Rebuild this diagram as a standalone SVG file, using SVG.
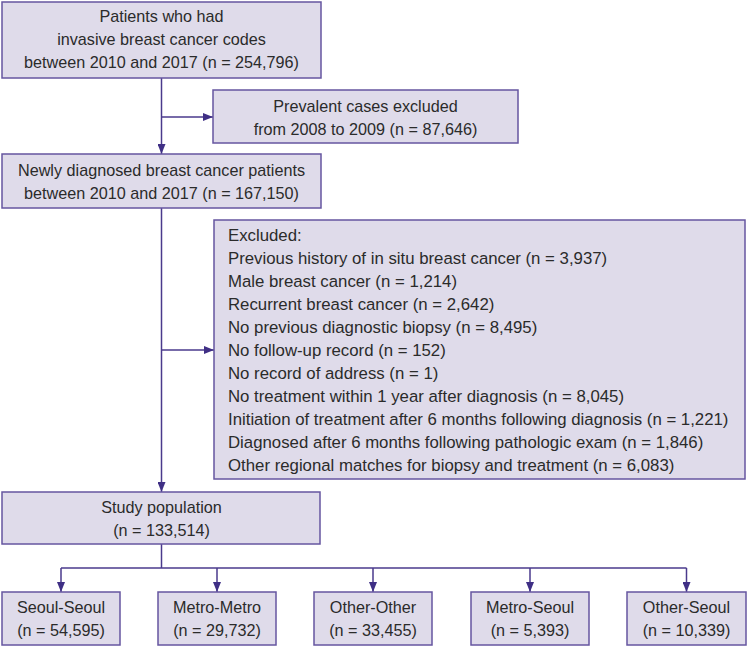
<svg xmlns="http://www.w3.org/2000/svg" width="747" height="647" viewBox="0 0 747 647">
<defs>
<marker id="ah" markerWidth="10" markerHeight="8" refX="10" refY="4" orient="auto" markerUnits="userSpaceOnUse">
<path d="M0,0 L10,4 L0,8 Z" fill="#3f2f85"/>
</marker>
<style>
.box{fill:#dfdbea;stroke:#6656a0;stroke-width:1.5}
.t{font-family:"Liberation Sans",Arial,sans-serif;font-size:16.2px;fill:#2b2b2b}
.e{font-size:16.8px}
.c{text-anchor:middle}
.ln{stroke:#4a3a8c;stroke-width:1.5;fill:none}
.ar{stroke:#4a3a8c;stroke-width:1.5;fill:none;marker-end:url(#ah)}
</style>
</defs>
<rect width="747" height="647" fill="#ffffff"/>
<g id="connectors">
<line class="ar" x1="161.5" y1="78" x2="161.5" y2="154"/>
<line class="ar" x1="161.5" y1="117" x2="213" y2="117"/>
<line class="ar" x1="161.5" y1="208" x2="161.5" y2="492"/>
<line class="ar" x1="161.5" y1="350" x2="214" y2="350"/>
<line class="ln" x1="161.5" y1="544" x2="161.5" y2="568"/>
<line class="ln" x1="61" y1="568" x2="686.5" y2="568"/>
<line class="ar" x1="61" y1="568" x2="61" y2="592"/>
<line class="ar" x1="217" y1="568" x2="217" y2="592"/>
<line class="ar" x1="373" y1="568" x2="373" y2="592"/>
<line class="ar" x1="530" y1="568" x2="530" y2="592"/>
<line class="ar" x1="686.5" y1="568" x2="686.5" y2="592"/>
</g>
<g id="n1">
<rect class="box" x="2" y="2" width="319" height="76"/>
<text class="t c" x="161.5" y="22">Patients who had</text>
<text class="t c" x="161.5" y="45">invasive breast cancer codes</text>
<text class="t c" x="161.5" y="68">between 2010 and 2017 (n = 254,796)</text>
</g>
<g id="n2">
<rect class="box" x="213" y="90" width="305" height="53"/>
<text class="t c" x="365.5" y="112">Prevalent cases excluded</text>
<text class="t c" x="365.5" y="135">from 2008 to 2009 (n = 87,646)</text>
</g>
<g id="n3">
<rect class="box" x="2" y="154" width="319" height="54"/>
<text class="t c" x="161.5" y="176">Newly diagnosed breast cancer patients</text>
<text class="t c" x="161.5" y="199">between 2010 and 2017 (n = 167,150)</text>
</g>
<g id="n4">
<rect class="box" x="214" y="220" width="531" height="259"/>
<text class="t e" x="228" y="241">Excluded:</text>
<text class="t e" x="228" y="264">Previous history of in situ breast cancer (n = 3,937)</text>
<text class="t e" x="228" y="287">Male breast cancer (n = 1,214)</text>
<text class="t e" x="228" y="310">Recurrent breast cancer (n = 2,642)</text>
<text class="t e" x="228" y="333">No previous diagnostic biopsy (n = 8,495)</text>
<text class="t e" x="228" y="356">No follow-up record (n = 152)</text>
<text class="t e" x="228" y="379">No record of address (n = 1)</text>
<text class="t e" x="228" y="402">No treatment within 1 year after diagnosis (n = 8,045)</text>
<text class="t e" x="228" y="425">Initiation of treatment after 6 months following diagnosis (n = 1,221)</text>
<text class="t e" x="228" y="448">Diagnosed after 6 months following pathologic exam (n = 1,846)</text>
<text class="t e" x="228" y="471">Other regional matches for biopsy and treatment (n = 6,083)</text>
</g>
<g id="n5">
<rect class="box" x="2" y="492" width="318" height="52"/>
<text class="t c" x="161.5" y="513">Study population</text>
<text class="t c" x="161.5" y="536">(n = 133,514)</text>
</g>
<g id="n6">
<rect class="box" x="2" y="592" width="118" height="53"/>
<text class="t c" x="61" y="613">Seoul-Seoul</text>
<text class="t c" x="61" y="636">(n = 54,595)</text>
</g>
<g id="n7">
<rect class="box" x="158" y="592" width="118" height="53"/>
<text class="t c" x="217" y="613">Metro-Metro</text>
<text class="t c" x="217" y="636">(n = 29,732)</text>
</g>
<g id="n8">
<rect class="box" x="314" y="592" width="118" height="53"/>
<text class="t c" x="373" y="613">Other-Other</text>
<text class="t c" x="373" y="636">(n = 33,455)</text>
</g>
<g id="n9">
<rect class="box" x="471" y="592" width="118" height="53"/>
<text class="t c" x="530" y="613">Metro-Seoul</text>
<text class="t c" x="530" y="636">(n = 5,393)</text>
</g>
<g id="n10">
<rect class="box" x="627" y="592" width="119" height="53"/>
<text class="t c" x="686.5" y="613">Other-Seoul</text>
<text class="t c" x="686.5" y="636">(n = 10,339)</text>
</g>
</svg>
